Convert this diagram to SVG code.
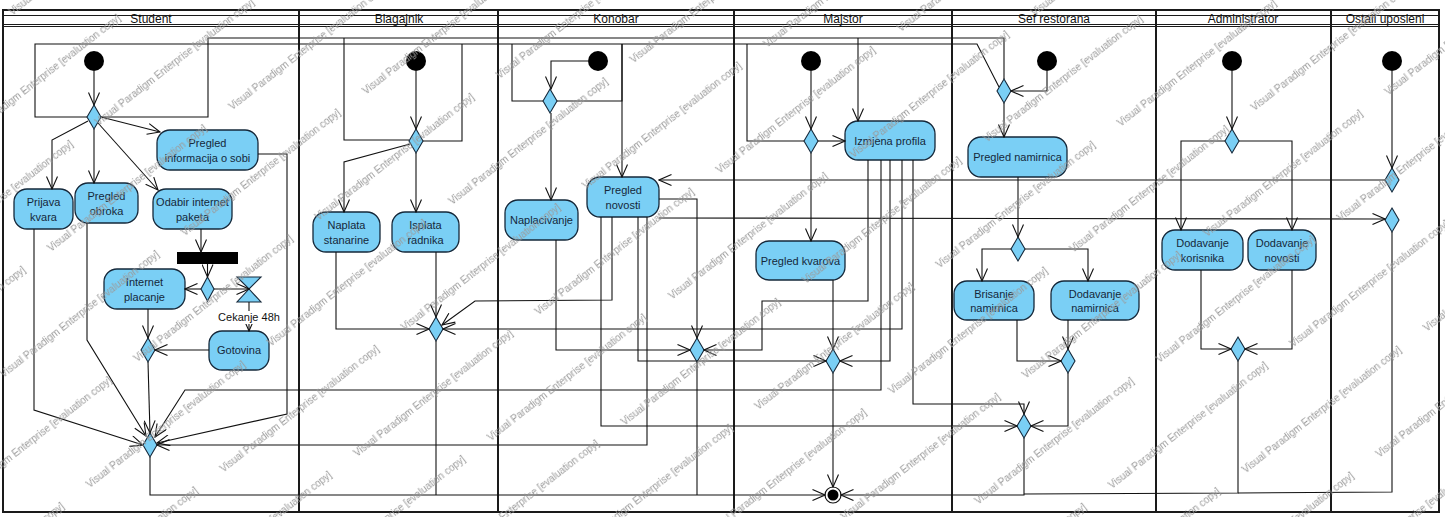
<svg xmlns="http://www.w3.org/2000/svg" width="1445" height="517" viewBox="0 0 1445 517">
  <style>
    .lane { fill: none; stroke: #1a1a1a; stroke-width: 2; }
    .hdr { fill: none; stroke: #1a1a1a; stroke-width: 1.2; }
    .lname { font-family: "Liberation Sans", Arial, sans-serif; font-size: 12px; fill: #111; text-anchor: middle; }
    .act rect { fill: #7acff5; stroke: #15283a; stroke-width: 1.3; }
    .act text { font-family: "Liberation Sans", Arial, sans-serif; font-size: 11px; fill: #15283a; text-anchor: middle; }
    .dec { fill: #7acff5; stroke: #15283a; stroke-width: 1.1; }
    .init { fill: #000; }
    .conn polyline { fill: none; stroke: #111; stroke-width: 1.1; }
    .conn .a { marker-end: url(#arr); }
    .lbl { font-family: "Liberation Sans", Arial, sans-serif; font-size: 11px; fill: #111; text-anchor: middle; }
    .wm { font-family: "Liberation Sans", Arial, sans-serif; font-size: 10px; fill: #9a9a9a; }
  </style>
  <defs>
    <marker id="arr" viewBox="0 0 14 12" refX="13" refY="6" markerWidth="14" markerHeight="12" markerUnits="userSpaceOnUse" orient="auto">
      <path d="M0.5,0.5 L13,6 L0.5,11.5" fill="none" stroke="#111" stroke-width="1.1"/>
    </marker>
    <!-- tiled evaluation stamp -->
    <pattern id="stamp" patternUnits="userSpaceOnUse" width="230" height="140" patternTransform="rotate(-38)">
      <text class="wm" x="0" y="20">Visual Paradigm Enterprise [evaluation copy]</text>
      <text class="wm" x="115" y="90">Visual Paradigm Enterprise [evaluation copy]</text>
      <text class="wm" x="-115" y="90">Visual Paradigm Enterprise [evaluation copy]</text>
    </pattern>
  </defs>

  <rect width="1445" height="517" fill="#fff"/>

  <!-- swimlane frame -->
  <g id="swimlanes">
    <rect class="lane" x="3" y="10" width="1436" height="502"/>
    <line class="hdr" x1="3" y1="15.5" x2="1439" y2="15.5"/>
    <line class="hdr" x1="3" y1="24.5" x2="1439" y2="24.5"/>
    <line class="hdr" x1="3" y1="26.5" x2="1439" y2="26.5"/>
    <line class="lane" x1="299" y1="10" x2="299" y2="512"/>
    <line class="lane" x1="498" y1="10" x2="498" y2="512"/>
    <line class="lane" x1="734" y1="10" x2="734" y2="512"/>
    <line class="lane" x1="952" y1="10" x2="952" y2="512"/>
    <line class="lane" x1="1156" y1="10" x2="1156" y2="512"/>
    <line class="lane" x1="1331" y1="10" x2="1331" y2="512"/>
    <text class="lname" x="151" y="23">Student</text>
    <text class="lname" x="399" y="23">Blagajnik</text>
    <text class="lname" x="616" y="23">Konobar</text>
    <text class="lname" x="843" y="23">Majstor</text>
    <text class="lname" x="1054" y="23">Sef restorana</text>
    <text class="lname" x="1243" y="23">Administrator</text>
    <text class="lname" x="1385" y="23">Ostali uposleni</text>
  </g>

  <!-- Student -->
  <g id="student-start"><circle class="init" cx="94" cy="61" r="10"/></g>
  <g id="student-choice"><polygon class="dec" points="94,105 101,117 94,129 87,117"/></g>
  <g id="prijava-kvara" class="act"><rect x="14" y="189" width="59" height="40" rx="13"/><text x="43.5" y="206">Prijava</text><text x="43.5" y="220.5">kvara</text></g>
  <g id="pregled-obroka" class="act"><rect x="75" y="183" width="63" height="40" rx="13"/><text x="106.5" y="200">Pregled</text><text x="106.5" y="214.5">obroka</text></g>
  <g id="odabir-internet-paketa" class="act"><rect x="153" y="189" width="79" height="40" rx="13"/><text x="192.5" y="206">Odabir internet</text><text x="192.5" y="220.5">paketa</text></g>
  <g id="pregled-informacija" class="act"><rect x="157" y="130" width="101" height="40" rx="13"/><text x="207.5" y="147">Pregled</text><text x="207.5" y="161.5">informacija o sobi</text></g>
  <g id="internet-fork"><rect x="177" y="252" width="61" height="12" fill="#000"/></g>
  <g id="placanje-choice"><polygon class="dec" points="207.5,277 214,289 207.5,301 201,289"/></g>
  <g id="internet-placanje" class="act"><rect x="104" y="269" width="81" height="40" rx="13"/><text x="144.5" y="286">Internet</text><text x="144.5" y="300.5">placanje</text></g>
  <g id="cekanje-48h"><polygon class="dec" points="237,277 261,277 249,289"/><polygon class="dec" points="237,302 261,302 249,289"/></g>
  <g id="gotovina" class="act"><rect x="209" y="331" width="60" height="39" rx="13"/><text x="239" y="354">Gotovina</text></g>
  <g id="placanje-merge"><polygon class="dec" points="148,338 155,350 148,362 141,350"/></g>
  <g id="student-merge"><polygon class="dec" points="150,433 157,445 150,457 143,445"/></g>

  <!-- Blagajnik -->
  <g id="blagajnik-start"><circle class="init" cx="416" cy="61" r="10"/></g>
  <g id="blagajnik-choice"><polygon class="dec" points="416,129 423,141 416,153 409,141"/></g>
  <g id="naplata-stanarine" class="act"><rect x="313" y="212" width="67" height="40" rx="13"/><text x="346.5" y="229">Naplata</text><text x="346.5" y="243.5">stanarine</text></g>
  <g id="isplata-radnika" class="act"><rect x="392" y="212" width="67" height="40" rx="13"/><text x="425.5" y="229">Isplata</text><text x="425.5" y="243.5">radnika</text></g>
  <g id="blagajnik-merge"><polygon class="dec" points="436,317 443,329 436,341 429,329"/></g>

  <!-- Konobar -->
  <g id="konobar-start"><circle class="init" cx="598" cy="61" r="10"/></g>
  <g id="konobar-choice"><polygon class="dec" points="550,89 557,101 550,113 543,101"/></g>
  <g id="naplacivanje" class="act"><rect x="505" y="200" width="73" height="40" rx="13"/><text x="541.5" y="224">Naplacivanje</text></g>
  <g id="pregled-novosti" class="act"><rect x="587" y="177" width="72" height="40" rx="13"/><text x="623" y="194">Pregled</text><text x="623" y="208.5">novosti</text></g>
  <g id="konobar-merge"><polygon class="dec" points="697,338 704,350 697,362 690,350"/></g>

  <!-- Majstor -->
  <g id="majstor-start"><circle class="init" cx="811" cy="61" r="10"/></g>
  <g id="majstor-choice"><polygon class="dec" points="811,129 818,141 811,153 804,141"/></g>
  <g id="izmjena-profila" class="act"><rect x="845" y="121" width="90" height="39" rx="13"/><text x="890" y="144.5">Izmjena profila</text></g>
  <g id="pregled-kvarova" class="act"><rect x="756" y="241" width="89" height="39" rx="13"/><text x="800.5" y="264.5">Pregled kvarova</text></g>
  <g id="majstor-merge"><polygon class="dec" points="833,349 840,361 833,373 826,361"/></g>
  <g id="activity-end"><circle cx="833" cy="495" r="8" fill="#fff" stroke="#111" stroke-width="1.2"/><circle cx="833" cy="495" r="5.5" fill="#000"/></g>

  <!-- Sef restorana -->
  <g id="sef-start"><circle class="init" cx="1047" cy="61" r="10"/></g>
  <g id="sef-choice"><polygon class="dec" points="1004,79 1011,91 1004,103 997,91"/></g>
  <g id="pregled-namirnica" class="act"><rect x="968" y="137" width="99" height="40" rx="13"/><text x="1017.5" y="161">Pregled namirnica</text></g>
  <g id="namirnice-choice"><polygon class="dec" points="1018,237 1025,249 1018,261 1011,249"/></g>
  <g id="brisanje-namirnica" class="act"><rect x="954" y="281" width="80" height="39" rx="13"/><text x="994" y="297.5">Brisanje</text><text x="994" y="312">namirnica</text></g>
  <g id="dodavanje-namirnica" class="act"><rect x="1051" y="281" width="88" height="39" rx="13"/><text x="1095" y="297.5">Dodavanje</text><text x="1095" y="312">namirnica</text></g>
  <g id="namirnice-merge"><polygon class="dec" points="1068,349 1075,361 1068,373 1061,361"/></g>
  <g id="sef-merge"><polygon class="dec" points="1024,414 1031,426 1024,438 1017,426"/></g>

  <!-- Administrator -->
  <g id="admin-start"><circle class="init" cx="1232" cy="61" r="10"/></g>
  <g id="admin-choice"><polygon class="dec" points="1232,129 1239,141 1232,153 1225,141"/></g>
  <g id="dodavanje-korisnika" class="act"><rect x="1162" y="230" width="81" height="40" rx="13"/><text x="1202.5" y="247">Dodavanje</text><text x="1202.5" y="261.5">korisnika</text></g>
  <g id="dodavanje-novosti" class="act"><rect x="1248" y="230" width="68" height="40" rx="13"/><text x="1282" y="247">Dodavanje</text><text x="1282" y="261.5">novosti</text></g>
  <g id="admin-merge"><polygon class="dec" points="1238,337 1245,349 1238,361 1231,349"/></g>

  <!-- Ostali uposleni -->
  <g id="ostali-start"><circle class="init" cx="1392" cy="61" r="10"/></g>
  <g id="ostali-choice-novosti"><polygon class="dec" points="1392,168 1399,180 1392,192 1385,180"/></g>
  <g id="ostali-choice-profil"><polygon class="dec" points="1392,208 1399,220 1392,232 1385,220"/></g>

  <!-- control flows -->
  <g id="connectors" class="conn">
    <!-- Student -->
    <polyline class="a" points="94,71 94,105"/>
    <polyline class="a" points="88,121 52,140 52,189"/>
    <polyline class="a" points="94,129 94,183"/>
    <polyline class="a" points="98,123 158,190"/>
    <polyline class="a" points="101,117 160,132"/>
    <polyline points="87,117 35,117 35,44 977,44 999,87"/>
    <polyline points="101,117 208,117 208,38 1004,38 1004,79"/>
    <polyline class="a" points="258,154 287,154 287,414 157,443"/>
    <polyline class="a" points="34,229 34,410 143,445"/>
    <polyline class="a" points="87,223 87,340 146,436"/>
    <polyline class="a" points="201,229 201,252"/>
    <polyline class="a" points="207.5,264 207.5,277"/>
    <polyline class="a" points="201,289 185,289"/>
    <polyline class="a" points="214,289 249,289"/>
    <polyline class="a" points="249,302 249,331"/>
    <polyline class="a" points="209,350 155,350"/>
    <polyline class="a" points="148,309 148,338"/>
    <polyline class="a" points="148,362 150,433"/>
    <polyline class="a" points="150,457 150,495 825,495"/>
    <!-- Blagajnik -->
    <polyline class="a" points="416,71 416,129"/>
    <polyline class="a" points="410,144 344,162 344,212"/>
    <polyline class="a" points="416,153 416,212"/>
    <polyline class="a" points="336,252 336,329 429,329"/>
    <polyline class="a" points="436,252 436,317"/>
    <polyline points="436,341 436,495"/>
    <polyline points="344,38 344,140 409,140"/>
    <polyline points="462,44 462,141 423,141"/>
    <!-- Konobar -->
    <polyline class="a" points="588,61 551,61 551,89"/>
    <polyline class="a" points="551,113 551,200"/>
    <polyline points="512,44 512,101 543,101"/>
    <polyline points="622,44 622,101 557,101"/>
    <polyline class="a" points="622,44 622,177"/>
    <polyline class="a" points="556,240 556,350 690,350"/>
    <polyline class="a" points="659,199 697,199 697,338"/>
    <polyline points="697,362 697,495"/>
    <polyline class="a" points="612,217 612,300 475,301 442,325"/>
    <polyline class="a" points="601,217 601,426 1017,426"/>
    <polyline class="a" points="638,217 638,361 826,361"/>
    <polyline class="a" points="647,217 647,445 157,445"/>
    <polyline class="a" points="659,218 1385,219"/>
    <polyline class="a" points="1385,180 659,180"/>
    <!-- Majstor -->
    <polyline class="a" points="811,71 811,129"/>
    <polyline points="747,44 747,141 804,141"/>
    <polyline class="a" points="858,38 858,121"/>
    <polyline class="a" points="818,141 845,141"/>
    <polyline class="a" points="811,153 811,241"/>
    <polyline class="a" points="833,280 833,349"/>
    <polyline class="a" points="833,373 833,487"/>
    <polyline class="a" points="868,160 868,301 762,301 762,350 704,350"/>
    <polyline class="a" points="881,160 881,390 185,390 155,437"/>
    <polyline class="a" points="890,160 890,361 840,361"/>
    <polyline class="a" points="902,160 902,329 443,329"/>
    <polyline class="a" points="913,160 913,404 1024,404 1024,414"/>
    <!-- Sef restorana -->
    <polyline class="a" points="1047,71 1047,91 1011,91"/>
    <polyline class="a" points="1004,103 1004,137"/>
    <polyline class="a" points="1018,177 1018,237"/>
    <polyline class="a" points="1011,249 982,249 982,281"/>
    <polyline class="a" points="1025,249 1088,249 1088,281"/>
    <polyline class="a" points="1017,320 1017,361 1061,361"/>
    <polyline class="a" points="1068,320 1068,349"/>
    <polyline class="a" points="1068,373 1068,426 1031,426"/>
    <polyline class="a" points="1024,438 1024,495 841,495"/>
    <!-- Administrator -->
    <polyline class="a" points="1232,71 1232,129"/>
    <polyline class="a" points="1225,141 1181,141 1181,230"/>
    <polyline class="a" points="1239,141 1292,141 1292,230"/>
    <polyline class="a" points="1201,270 1201,349 1231,349"/>
    <polyline class="a" points="1292,270 1292,349 1245,349"/>
    <polyline points="1238,361 1238,493 1024,494"/>
    <!-- Ostali uposleni -->
    <polyline class="a" points="1392,71 1392,168"/>
    <polyline points="1392,232 1392,492 1238,493"/>
    <!-- time event label -->
    <rect x="216" y="311" width="66" height="13" fill="#fff"/>
    <text class="lbl" x="249" y="321">Cekanje 48h</text>
  </g>

  <!-- evaluation stamp over the whole sheet -->
  <rect id="stamp-layer" width="1445" height="517" fill="url(#stamp)"/>
</svg>
